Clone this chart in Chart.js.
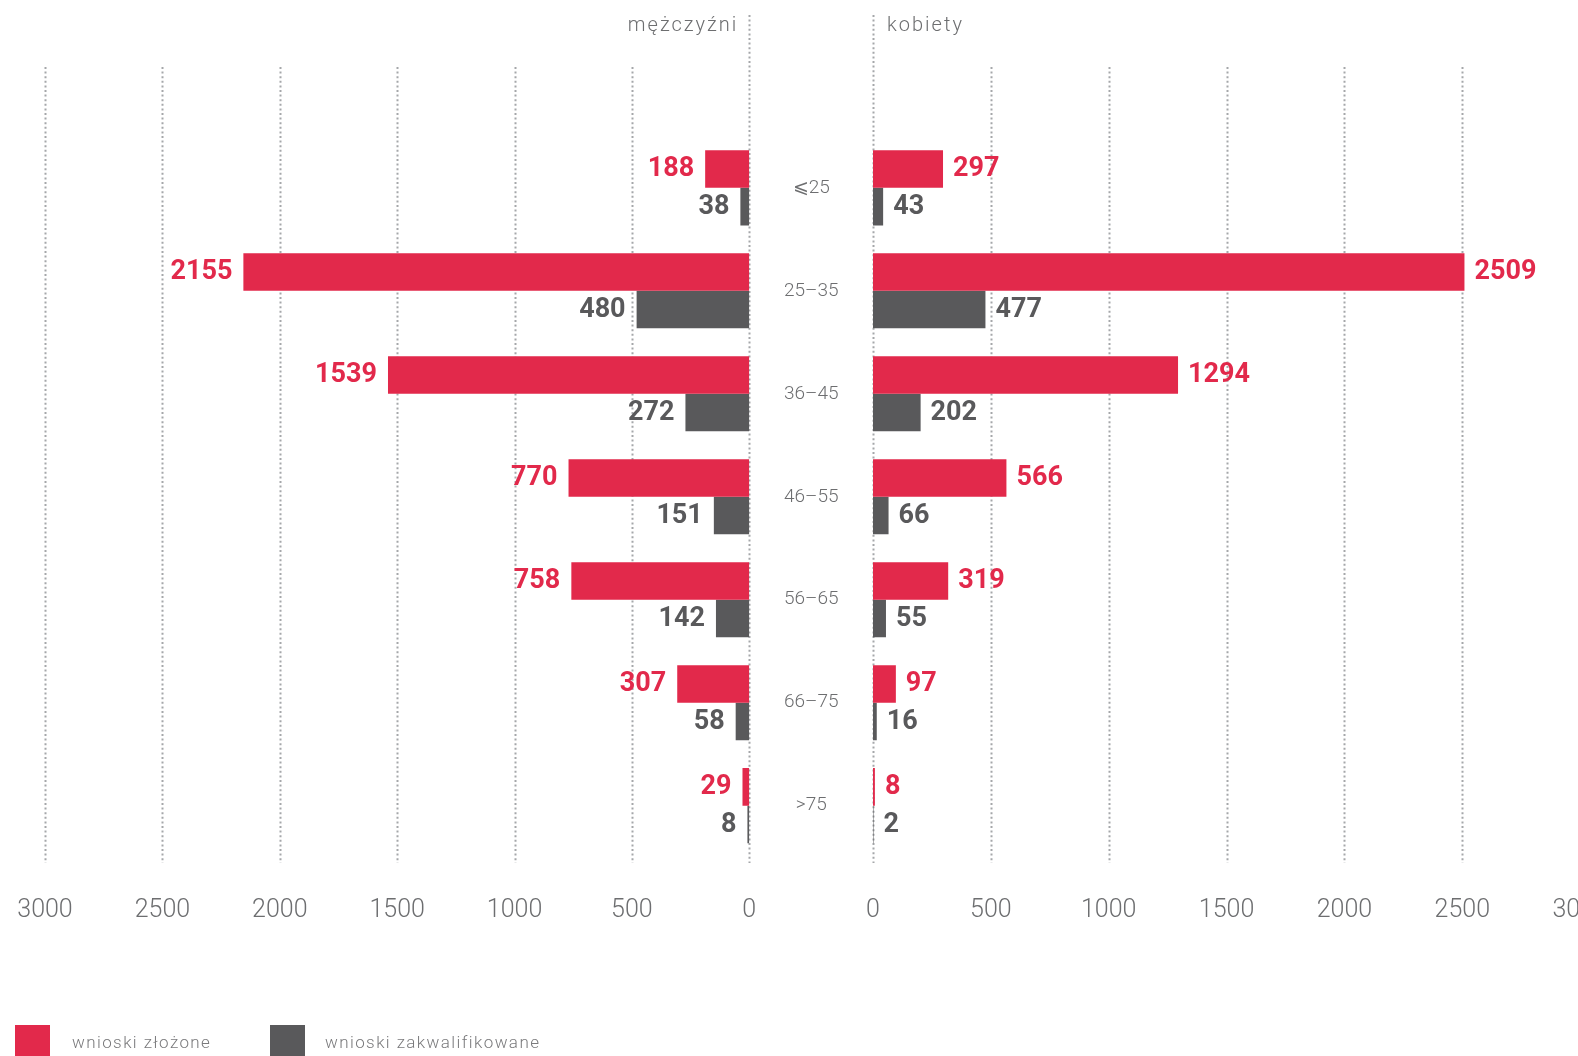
<!DOCTYPE html>
<html lang="pl">
<head>
<meta charset="utf-8">
<title>Wnioski według wieku i płci</title>
<script src="https://cdn.jsdelivr.net/npm/chart.js@4.4.0/dist/chart.umd.min.js"></script>
<style>
    html, body {
        margin: 0;
        padding: 0;
        background: #ffffff;
        width: 1578px;
        height: 1056px;
        overflow: hidden;
        position: relative;
        font-family: Roboto, "Open Sans", sans-serif;
    }
    .chart-box {
        position: absolute;
        top: 0;
        height: 1056px;
    }
    /* boxes overlap, canvases are transparent */
    #leftBox { left: -25px; width: 905px; }
    #rightBox { left: 803.3px; width: 847.2px; }
    .legend-item {
        position: absolute;
        top: 1025px;
        height: 35px;
    }
    .legend-swatch {
        position: absolute;
        left: 0;
        top: 0;
        width: 35px;
        height: 35px;
    }
    .legend-text {
        position: absolute;
        top: 7px;
        white-space: nowrap;
        font-size: 17px;
        font-weight: 300;
        letter-spacing: 1.4px;
        color: #7a7a7c;
    }
</style>
</head>
<body>
<div class="chart-box" id="leftBox"><canvas id="menChart"></canvas></div>
<div class="chart-box" id="rightBox"><canvas id="womenChart"></canvas></div>

<div class="legend-item" style="left:15px;">
    <div class="legend-swatch" style="background:#e2294b;"></div>
    <div class="legend-text" style="left:57px;">wnioski złożone</div>
</div>
<div class="legend-item" style="left:270px;">
    <div class="legend-swatch" style="background:#59595b;"></div>
    <div class="legend-text" style="left:55px;">wnioski zakwalifikowane</div>
</div>

<script>
// Age groups (top to bottom)
const ageGroups = ['⩽25', '25–35', '36–45', '46–55', '56–65', '66–75', '>75'];

// Men
const menSubmitted = [188, 2155, 1539, 770, 758, 307, 29];
const menQualified = [38, 480, 272, 151, 142, 58, 8];

// Women
const womenSubmitted = [297, 2509, 1294, 566, 319, 97, 8];
const womenQualified = [43, 477, 202, 66, 55, 16, 2];

// Axis ticks
const tickValues = [0, 500, 1000, 1500, 2000, 2500, 3000];

const RED = '#e2294b';
const GRAY = '#59595b';
const TEXT_GRAY = '#6d6e70';
const GRID_GRAY = '#a5a7aa';

// Dotted vertical grid lines (zero line goes up to the title)
const dottedGrid = {
    id: 'dottedGrid',
    beforeDatasetsDraw(chart) {
        const ctx = chart.ctx;
        const xs = chart.scales.x;
        ctx.save();
        ctx.strokeStyle = GRID_GRAY;
        ctx.lineWidth = 2;
        ctx.setLineDash([2, 2.6]);
        tickValues.forEach(v => {
            const x = Math.round(xs.getPixelForValue(v)) + 0.5;
            ctx.beginPath();
            ctx.moveTo(x, v === 0 ? 15 : 67);
            ctx.lineTo(x, 863);
            ctx.stroke();
        });
        ctx.restore();
    }
};

// Value labels next to the bar ends
const valueLabels = {
    id: 'valueLabels',
    afterDatasetsDraw(chart) {
        const ctx = chart.ctx;
        const toLeft = chart.options.scales.x.reverse;
        ctx.save();
        ctx.font = '700 27px Roboto';
        ctx.textBaseline = 'middle';
        ctx.textAlign = toLeft ? 'right' : 'left';
        chart.data.datasets.forEach((ds, i) => {
            const meta = chart.getDatasetMeta(i);
            ctx.fillStyle = ds.backgroundColor;
            meta.data.forEach((bar, j) => {
                const x = toLeft ? bar.x - 11 : bar.x + 10;
                ctx.fillText(String(ds.data[j]), x, bar.y + 0.5);
            });
        });
        ctx.restore();
    }
};

// Panel title and (left chart only) the age group labels in the gap
const panelText = {
    id: 'panelText',
    afterDraw(chart) {
        const ctx = chart.ctx;
        const xs = chart.scales.x;
        const ys = chart.scales.y;
        const zeroX = xs.getPixelForValue(0);
        const isMen = chart.options.scales.x.reverse;
        ctx.save();
        ctx.fillStyle = TEXT_GRAY;
        ctx.font = '300 20px Roboto';
        ctx.letterSpacing = '2px';
        ctx.textBaseline = 'alphabetic';
        if (isMen) {
            ctx.textAlign = 'right';
            ctx.fillText('mężczyźni', zeroX - 11, 31);
        } else {
            ctx.textAlign = 'left';
            ctx.fillText('kobiety', zeroX + 14, 31);
        }
        if (isMen) {
            ctx.letterSpacing = '0px';
            ctx.font = '300 19px Roboto';
            ctx.textAlign = 'center';
            ctx.textBaseline = 'middle';
            ageGroups.forEach((g, i) => {
                ctx.fillText(g, zeroX + 62, ys.getPixelForValue(i));
            });
        }
        ctx.restore();
    }
};

function makeChart(canvasId, submitted, qualified, reversed, padding) {
    const ctx = document.getElementById(canvasId).getContext('2d');
    return new Chart(ctx, {
        type: 'bar',
        data: {
            labels: ageGroups,
            datasets: [{
                label: 'wnioski złożone',
                data: submitted,
                backgroundColor: RED,
                categoryPercentage: 0.73,
                barPercentage: 1.0
            }, {
                label: 'wnioski zakwalifikowane',
                data: qualified,
                backgroundColor: GRAY,
                categoryPercentage: 0.73,
                barPercentage: 1.0
            }]
        },
        options: {
            indexAxis: 'y',
            responsive: true,
            maintainAspectRatio: false,
            animation: false,
            devicePixelRatio: 1,
            layout: { padding: padding },
            plugins: {
                legend: { display: false },
                tooltip: { enabled: false }
            },
            scales: {
                x: {
                    type: 'linear',
                    min: 0,
                    max: 3000,
                    reverse: reversed,
                    border: { display: false },
                    grid: { display: false, drawTicks: false, tickLength: 0 },
                    afterBuildTicks: function(scale) {
                        scale.ticks = tickValues.map(v => ({ value: v }));
                    },
                    ticks: {
                        padding: 38.3,
                        color: TEXT_GRAY,
                        font: { family: 'Roboto', weight: '300', size: 25, lineHeight: 1.2 },
                        maxRotation: 0,
                        autoSkip: false,
                        callback: v => String(v)
                    }
                },
                y: {
                    display: false
                }
            }
        },
        plugins: [dottedGrid, valueLabels, panelText]
    });
}

document.addEventListener('DOMContentLoaded', function() {
    makeChart('menChart', menSubmitted, menQualified, true,
        { left: 70, right: 130.7, top: 136.3, bottom: 92.2 });
    makeChart('womenChart', womenSubmitted, womenQualified, false,
        { left: 70, right: 70, top: 136.3, bottom: 92.2 });
});
</script>
</body>
</html>
